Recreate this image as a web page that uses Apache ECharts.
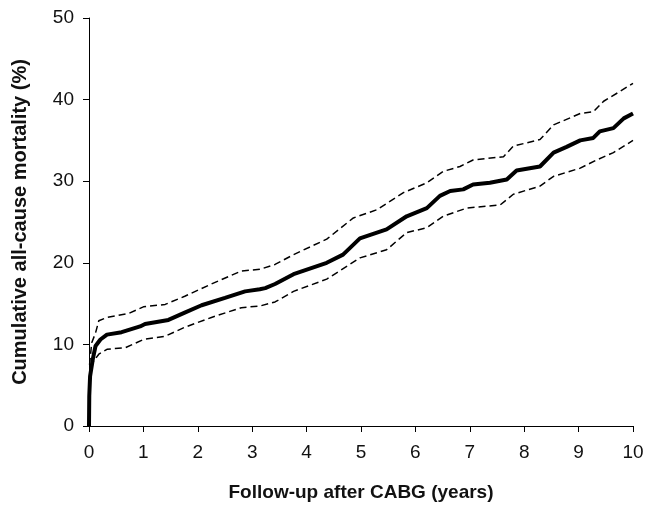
<!DOCTYPE html>
<html>
<head>
<meta charset="utf-8">
<script src="https://cdn.jsdelivr.net/npm/echarts@6/dist/echarts.min.js"></script>
<style>html,body{margin:0;padding:0;background:#fff}#c{width:649px;height:509px}</style>
</head>
<body>
<div id="c"></div>
<script>
// Kaplan-Meier estimate (solid)
var estTime = [0, 0.005, 0.02, 0.07, 0.12, 0.21, 0.33, 0.6, 0.94, 1.03, 1.46, 1.76, 2.07, 2.5, 2.87, 3.14, 3.24, 3.42, 3.76, 4.37, 4.67, 4.98, 5.47, 5.84, 6.21, 6.45, 6.64, 6.88, 7.06, 7.37, 7.68, 7.86, 8.29, 8.54, 8.78, 9.03, 9.27, 9.39, 9.64, 9.83, 10.0];
var estValue = [0, 3.7, 6.1, 8.2, 9.8, 10.6, 11.2, 11.5, 12.2, 12.5, 13.0, 13.9, 14.8, 15.7, 16.5, 16.75, 16.9, 17.4, 18.6, 20.0, 21.0, 23.0, 24.1, 25.7, 26.7, 28.2, 28.8, 29.0, 29.6, 29.8, 30.2, 31.3, 31.8, 33.5, 34.2, 35.0, 35.3, 36.1, 36.5, 37.7, 38.3];
// Upper 95% confidence limit (dashed)
var upperTime = [0.01, 0.05, 0.12, 0.18, 0.33, 0.73, 1.0, 1.4, 1.76, 2.25, 2.8, 3.14, 3.42, 3.76, 4.37, 4.86, 5.29, 5.78, 6.21, 6.51, 6.82, 7.06, 7.62, 7.8, 8.29, 8.54, 9.03, 9.27, 9.46, 9.76, 10.0];
var upperValue = [7.5, 10.2, 11.4, 12.9, 13.3, 13.8, 14.6, 14.9, 15.9, 17.4, 19.0, 19.2, 19.8, 21.0, 22.9, 25.5, 26.5, 28.6, 29.8, 31.2, 31.8, 32.6, 33.0, 34.3, 35.1, 36.9, 38.3, 38.5, 39.8, 41.0, 42.0];
// Lower 95% confidence limit (dashed)
var lowerTime = [0.01, 0.02, 0.09, 0.18, 0.33, 0.67, 1.0, 1.4, 1.76, 2.25, 2.8, 3.14, 3.42, 3.76, 4.37, 4.98, 5.47, 5.84, 6.21, 6.51, 6.94, 7.56, 7.8, 8.29, 8.54, 9.03, 9.33, 9.64, 10.0];
var lowerValue = [4.5, 7.0, 8.0, 8.8, 9.4, 9.6, 10.6, 11.0, 12.1, 13.3, 14.5, 14.7, 15.2, 16.5, 18.0, 20.6, 21.6, 23.7, 24.3, 25.7, 26.7, 27.1, 28.4, 29.4, 30.6, 31.6, 32.6, 33.5, 35.0];

var xTitle = 'Follow-up after CABG (years)';
var yTitle = 'Cumulative all-cause mortality (%)';

function zip(a, b) { return a.map(function (t, i) { return [t, b[i]]; }); }

var font = 'Liberation Sans, Arial, sans-serif';
var chart = echarts.init(document.getElementById('c'), null, {renderer: 'canvas'});
chart.setOption({
  animation: false,
  backgroundColor: '#ffffff',
  grid: {left: 89, right: 16, top: 18, bottom: 83, containLabel: false},
  xAxis: {
    type: 'value', min: 0, max: 10, interval: 1,
    name: xTitle, nameLocation: 'middle', nameGap: 57,
    nameTextStyle: {fontFamily: font, fontSize: 19, fontWeight: 'bold', color: '#111'},
    axisLine: {show: true, onZero: false, lineStyle: {color: '#000', width: 1}},
    axisTick: {show: true, inside: false, length: 6, lineStyle: {color: '#000'}},
    axisLabel: {fontFamily: font, fontSize: 19, color: '#111', margin: 17},
    splitLine: {show: false}
  },
  yAxis: {
    type: 'value', min: 0, max: 50, interval: 10,
    name: yTitle, nameLocation: 'middle', nameGap: 59,
    nameTextStyle: {fontFamily: font, fontSize: 20, fontWeight: 'bold', color: '#111'},
    axisLine: {show: true, lineStyle: {color: '#000', width: 1}},
    axisTick: {show: true, inside: false, length: 6, lineStyle: {color: '#000'}},
    axisLabel: {fontFamily: font, fontSize: 19, color: '#111', margin: 15},
    splitLine: {show: false}
  },
  series: [
    {type: 'line', data: zip(upperTime, upperValue), symbol: 'none', smooth: false,
     lineStyle: {color: '#000', width: 1.5, type: [7, 4]}},
    {type: 'line', data: zip(lowerTime, lowerValue), symbol: 'none', smooth: false,
     lineStyle: {color: '#000', width: 1.5, type: [7, 4]}},
    {type: 'line', data: zip(estTime, estValue), symbol: 'none', smooth: false,
     lineStyle: {color: '#000', width: 4}}
  ]
});
</script>
</body>
</html>
